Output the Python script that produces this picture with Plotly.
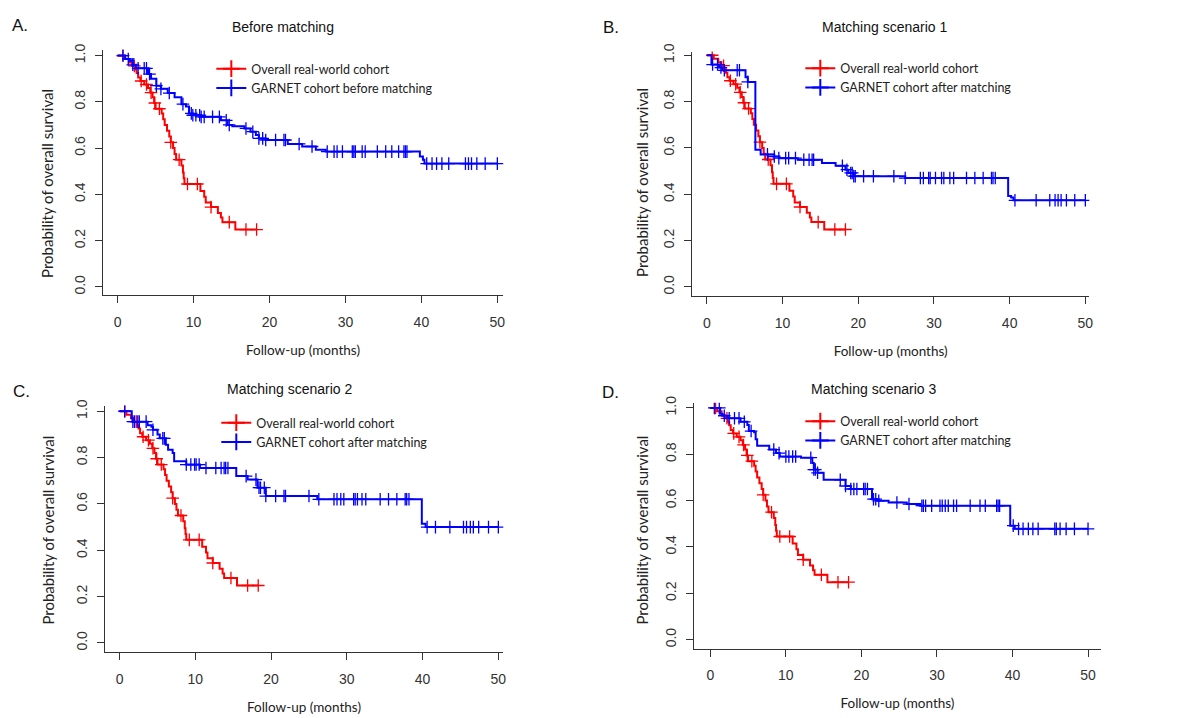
import plotly.graph_objects as go

W, H = 1181, 718
OFF = 8  # default page margin of the html body

# ---------------- data (months, survival probability) ----------------
# Overall real-world cohort (identical in every panel)
rw_event_t = [0.9, 1.5, 1.9, 2.3, 2.5, 2.7, 3.0, 3.5, 4.0, 4.3, 4.6, 4.8, 5.0, 5.8, 6.0, 6.2,
              6.5, 6.8, 7.0, 7.3, 7.5, 7.7, 8.4, 8.6, 8.7, 8.8, 10.9, 11.4, 11.6, 12.3, 13.2,
              13.6, 13.8, 15.5]
rw_event_s = [0.985, 0.970, 0.955, 0.940, 0.925, 0.905, 0.890, 0.875, 0.860, 0.840, 0.820,
              0.795, 0.770, 0.750, 0.725, 0.700, 0.675, 0.650, 0.625, 0.600, 0.575, 0.550,
              0.525, 0.495, 0.470, 0.445, 0.415, 0.390, 0.365, 0.345, 0.320, 0.300, 0.280,
              0.248]
rw_cens_t = [0.7, 2.2, 3.1, 3.8, 4.4, 4.9, 5.5, 7.0, 8.1, 9.2, 10.5, 12.3, 14.7, 16.9, 18.3]

# GARNET cohort before matching (panel A)
gA_event_t = [1.0, 1.6, 2.0, 2.4, 4.0, 4.4, 5.1, 5.7, 6.6, 7.5, 8.4, 9.0, 9.4, 9.9, 11.0,
              13.6, 14.5, 15.1, 16.7, 17.5, 18.2, 18.6, 19.5, 22.4, 24.3, 26.1, 27.4, 39.8,
              40.2, 40.4]
gA_event_s = [0.985, 0.977, 0.960, 0.945, 0.920, 0.900, 0.870, 0.856, 0.838, 0.820, 0.790,
              0.780, 0.750, 0.742, 0.735, 0.720, 0.700, 0.695, 0.685, 0.671, 0.657, 0.642,
              0.635, 0.618, 0.607, 0.593, 0.585, 0.564, 0.550, 0.533]
gA_cens_t = [0.7, 1.4, 2.0, 2.7, 3.5, 3.8, 4.2, 5.1, 5.7, 6.8, 8.6, 9.7, 9.9, 10.3, 10.8, 11.0,
             11.4, 12.5, 13.4, 14.3, 14.7, 16.9, 17.8, 18.6, 19.1, 19.5, 20.8, 21.9, 22.1,
             23.9, 25.6, 27.6, 28.5, 28.9, 29.6, 30.9, 31.1, 31.3, 32.2, 32.6, 34.2, 35.3,
             36.1, 37.0, 37.7, 37.9, 38.1, 40.7, 41.4, 42.0, 42.7, 43.6, 45.8, 46.2, 46.6,
             47.3, 48.4, 50.0]

# GARNET cohort after matching, scenario 1 (panel B)
gB_event_t = [0.6, 1.6, 2.0, 5.1, 5.4, 6.4, 7.1, 8.9, 9.5, 12.0, 15.2, 17.0, 18.3, 18.7, 19.4,
              26.2, 39.8, 40.2, 40.5]
gB_event_s = [0.960, 0.947, 0.935, 0.905, 0.885, 0.592, 0.572, 0.563, 0.556, 0.549, 0.535,
              0.523, 0.506, 0.492, 0.478, 0.470, 0.393, 0.386, 0.374]
gB_cens_t = [0.75, 1.4, 1.85, 2.3, 4.0, 4.3, 5.4, 8.0, 8.9, 9.5, 10.4, 10.8, 11.7, 12.8, 13.5,
             13.9, 14.1, 17.9, 18.5, 19.0, 19.2, 19.4, 19.6, 20.7, 22.0, 24.7, 26.2, 28.2,
             28.6, 29.3, 29.5, 30.2, 31.0, 31.3, 32.1, 32.6, 34.3, 35.4, 36.5, 37.6, 37.8,
             38.1, 40.7, 43.5, 45.3, 46.0, 46.4, 46.8, 47.5, 48.6, 50.0]

# GARNET cohort after matching, scenario 2 (panel C)
gC_event_t = [1.6, 1.7, 3.7, 4.2, 4.4, 5.0, 5.3, 6.1, 6.4, 7.0, 7.2, 8.8, 10.6, 15.4, 16.9,
              18.2, 19.3, 26.1, 39.9, 40.4]
gC_event_s = [0.970, 0.955, 0.940, 0.933, 0.920, 0.900, 0.883, 0.855, 0.834, 0.820, 0.784,
              0.770, 0.755, 0.720, 0.705, 0.670, 0.634, 0.620, 0.514, 0.500]
gC_cens_t = [0.66, 1.75, 1.97, 2.4, 2.6, 3.5, 4.4, 5.7, 5.9, 8.8, 9.4, 9.9, 10.1, 10.5, 11.4,
             12.7, 13.4, 13.8, 14.0, 14.3, 16.7, 18.0, 18.4, 18.6, 19.1, 19.3, 20.6, 21.7,
             21.9, 25.0, 26.3, 28.3, 28.7, 29.2, 29.6, 30.9, 31.1, 31.4, 32.0, 32.5, 34.4,
             35.5, 36.6, 37.7, 37.9, 38.2, 40.6, 41.7, 43.6, 45.4, 45.8, 46.3, 46.7, 47.4,
             48.7, 50.0]

# GARNET cohort after matching, scenario 3 (panel D)
gD_event_t = [1.3, 1.6, 2.3, 4.0, 4.9, 5.1, 5.8, 6.0, 6.2, 7.8, 8.7, 9.2, 12.0, 13.5, 13.7,
              14.2, 15.0, 17.9, 18.6, 21.4, 22.1, 23.6, 26.0, 27.8, 39.7, 40.3]
gD_event_s = [0.975, 0.966, 0.955, 0.940, 0.926, 0.900, 0.895, 0.865, 0.837, 0.820, 0.805,
              0.790, 0.785, 0.762, 0.734, 0.720, 0.690, 0.663, 0.650, 0.606, 0.599, 0.592,
              0.585, 0.578, 0.492, 0.478]
gD_cens_t = [0.53, 1.19, 1.85, 2.5, 3.2, 3.8, 4.5, 5.4, 8.4, 9.1, 10.0, 10.4, 10.9, 11.3, 13.3,
             13.7, 13.9, 14.2, 17.2, 17.9, 18.6, 19.0, 19.4, 20.3, 20.5, 20.8, 21.6, 21.9,
             22.3, 24.7, 26.3, 28.0, 28.2, 28.5, 29.3, 30.4, 30.7, 31.1, 31.5, 32.2, 32.6,
             34.4, 35.7, 36.4, 37.9, 38.1, 38.3, 40.1, 40.8, 41.4, 42.1, 42.7, 43.4, 45.6,
             45.8, 46.3, 47.1, 48.2, 50.0]

panel_letters = ["A.", "B.", "C.", "D."]
panel_titles = ["Before matching", "Matching scenario 1", "Matching scenario 2", "Matching scenario 3"]
red_name = "Overall real-world cohort"
blue_names = ["GARNET cohort before matching", "GARNET cohort after matching",
              "GARNET cohort after matching", "GARNET cohort after matching"]
x_title = "Follow-up (months)"
y_title = "Probability of overall survival"
garnet = [(gA_event_t, gA_event_s, gA_cens_t), (gB_event_t, gB_event_s, gB_cens_t),
          (gC_event_t, gC_event_s, gC_cens_t), (gD_event_t, gD_event_s, gD_cens_t)]
x_ticks = [0, 10, 20, 30, 40, 50]
y_ticks = [0.0, 0.2, 0.4, 0.6, 0.8, 1.0]
y_ticklabels = ["0.0", "0.2", "0.4", "0.6", "0.8", "1.0"]

# ---------------- layout geometry (page pixels) ----------------
geo = [
    dict(x0=118, x50=499, y1=48, y0=282, left=103, right=505, top=42, bottom=290,
         title=(284, 19), letter=(20, 18), leg=(212, 46.5), ytitle=(47, 177)),
    dict(x0=709.3, x50=1089, y1=47.7, y0=282, left=694.3, right=1093, top=44, bottom=291,
         title=(888, 19), letter=(613, 20), leg=(803, 46), ytitle=(644, 176)),
    dict(x0=120, x50=500, y1=407.7, y0=642, left=105, right=505, top=402, bottom=651,
         title=(291, 385), letter=(22, 388), leg=(217, 404.5), ytitle=(48, 527.5)),
    dict(x0=712.7, x50=1091.7, y1=404.3, y0=638.7, left=696, right=1105, top=399, bottom=647.7,
         title=(877, 385), letter=(613, 389), leg=(803, 403), ytitle=(644, 527.5)),
]

RED = "#ff0000"
BLUE = "#0000ff"
AX = "#333333"
XTICKFONT = dict(family="Liberation Sans Narrow, Arial Narrow, Liberation Sans, Arial", size=14, color="#333333")
YTICKFONT = dict(family="Liberation Sans, Arial", size=14, color="#333333")
XLABFONT = dict(family="Lato, Carlito, Calibri, sans-serif", size=13.5, color="#222222")
YLABFONT = dict(family="Lato, Carlito, Calibri, sans-serif", size=15, color="#222222")
LEGFONT = dict(family="Lato, Carlito, Calibri, sans-serif", size=12.5, color="#222222")


def px_x(px):
    return (px - OFF) / W


def px_y(py):
    return 1 - (py - OFF) / H


def surv_at(t, ev_t, ev_s):
    s = 1.0
    for et, es in zip(ev_t, ev_s):
        if et <= t:
            s = es
    return s


fig = go.Figure()
annotations = []

for i in range(4):
    g = geo[i]
    xa = "x" if i == 0 else f"x{i+1}"
    ya = "y" if i == 0 else f"y{i+1}"
    leg = "legend" if i == 0 else f"legend{i+1}"
    curves = [(rw_event_t, rw_event_s, rw_cens_t, RED, red_name),
              (garnet[i][0], garnet[i][1], garnet[i][2], BLUE, blue_names[i])]
    for ev_t, ev_s, c_t, col, name in curves:
        tmax = max(c_t)
        fig.add_trace(go.Scatter(
            x=[0] + ev_t + [tmax], y=[1.0] + ev_s + [ev_s[-1]],
            mode="lines", line=dict(color=col, width=2, shape="hv"),
            xaxis=xa, yaxis=ya, showlegend=False, hoverinfo="skip"))
        fig.add_trace(go.Scatter(
            x=c_t, y=[surv_at(t, ev_t, ev_s) for t in c_t],
            mode="markers",
            marker=dict(symbol="cross-thin-open", size=9, color=col, line=dict(color=col, width=1.3)),
            xaxis=xa, yaxis=ya, showlegend=False, hoverinfo="skip"))
        # legend entry
        fig.add_trace(go.Scatter(
            x=[None], y=[None], mode="lines+markers", name=name,
            line=dict(color=col, width=2),
            marker=dict(symbol="cross-thin-open", size=12, color=col, line=dict(color=col, width=2)),
            xaxis=xa, yaxis=ya, showlegend=True, legend=leg))

    sx = (g["x50"] - g["x0"]) / 50.0
    sy = (g["y0"] - g["y1"])
    xr = [(g["left"] - g["x0"]) / sx, (g["right"] - g["x0"]) / sx]
    yr = [(g["y0"] - g["bottom"]) / sy, (g["y0"] - g["top"]) / sy]
    xkey = "xaxis" if i == 0 else f"xaxis{i+1}"
    ykey = "yaxis" if i == 0 else f"yaxis{i+1}"
    fig.update_layout(**{
        xkey: dict(domain=[px_x(g["left"]), px_x(g["right"])], range=xr, anchor=ya,
                   showline=True, linecolor=AX, linewidth=1, mirror=False,
                   ticks="outside", ticklen=7, tickcolor=AX, tickwidth=1,
                   tickvals=x_ticks, tickfont=XTICKFONT, showgrid=False, zeroline=False,
                   ticklabelstandoff=7,
                   title=dict(text=x_title, font=XLABFONT, standoff=16)),
        ykey: dict(domain=[px_y(g["bottom"]), px_y(g["top"])], range=yr, anchor=xa,
                   showline=True, linecolor=AX, linewidth=1, mirror=False,
                   ticks="outside", ticklen=7, tickcolor=AX, tickwidth=1,
                   tickvals=y_ticks, ticktext=y_ticklabels, tickangle=-90,
                   tickfont=YTICKFONT, showgrid=False, zeroline=False,
                   ticklabelstandoff=4),
        leg: dict(x=px_x(g["leg"][0]), y=px_y(g["leg"][1]), xanchor="left", yanchor="top",
                  bgcolor="rgba(0,0,0,0)", borderwidth=0, font=LEGFONT,
                  tracegroupgap=0, itemwidth=30),
    })
    annotations.append(dict(text=y_title, x=px_x(g["ytitle"][0]), y=px_y(g["ytitle"][1]),
                            xref="paper", yref="paper", xanchor="center", yanchor="middle",
                            textangle=-90, showarrow=False, font=YLABFONT))
    annotations.append(dict(text=panel_titles[i], x=px_x(g["title"][0]), y=px_y(g["title"][1]),
                            xref="paper", yref="paper", xanchor="center", yanchor="middle",
                            showarrow=False,
                            font=dict(family="Liberation Sans, Arial", size=14, color="#111111")))
    annotations.append(dict(text=panel_letters[i], x=px_x(g["letter"][0]), y=px_y(g["letter"][1]),
                            xref="paper", yref="paper", xanchor="center", yanchor="middle",
                            showarrow=False,
                            font=dict(family="Liberation Sans, Arial", size=17, color="#111111")))

fig.update_layout(width=W, height=H, margin=dict(l=0, r=0, t=0, b=0),
                  paper_bgcolor="white", plot_bgcolor="white",
                  annotations=annotations, showlegend=True)

fig.write_html("out.html")
